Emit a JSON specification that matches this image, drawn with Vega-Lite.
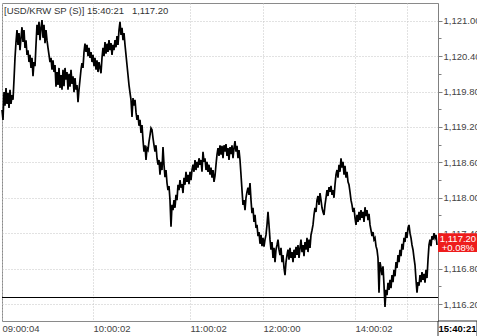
{
"$schema": "https://vega.github.io/schema/vega-lite/v6.json",
"width": 436, "height": 318,
"autosize": {"type": "none"},
"padding": {"left": 2, "top": 3, "right": 39, "bottom": 15},
"background": "white",
"config": {"view": {"stroke": "#8a8a8a", "strokeWidth": 1}, "font": "Liberation Sans"},
"title": {"text": "[USD/KRW SP (S)] 15:40:21\u00a0\u00a0 1,117.20", "anchor": "start", "frame": "group", "offset": -12, "dx": 2, "fontSize": 9.5, "fontWeight": "normal", "color": "#333333", "font": "Liberation Sans"},
"resolve": {"axis": {"x": "independent", "y": "independent"}},
"data": {"values": [
{"i":0,"p":1119.49},{"i":1,"p":1119.32},{"i":2,"p":1119.79},{"i":3,"p":1119.56},{"i":4,"p":1119.86},{"i":5,"p":1119.59},{"i":6,"p":1119.78},{"i":7,"p":1119.52},{"i":8,"p":1119.83},{"i":9,"p":1119.59},
{"i":10,"p":1119.74},{"i":11,"p":1119.66},{"i":12,"p":1120.00},{"i":13,"p":1120.37},{"i":14,"p":1120.64},{"i":15,"p":1120.84},{"i":16,"p":1120.59},{"i":17,"p":1120.79},{"i":18,"p":1120.50},{"i":19,"p":1120.71},
{"i":20,"p":1120.89},{"i":21,"p":1120.64},{"i":22,"p":1120.84},{"i":23,"p":1120.54},{"i":24,"p":1120.67},{"i":25,"p":1120.42},{"i":26,"p":1120.50},{"i":27,"p":1120.30},{"i":28,"p":1120.42},{"i":29,"p":1120.20},
{"i":30,"p":1120.37},{"i":31,"p":1120.06},{"i":32,"p":1120.30},{"i":33,"p":1120.23},{"i":34,"p":1120.59},{"i":35,"p":1120.93},{"i":36,"p":1120.76},{"i":37,"p":1120.98},{"i":38,"p":1120.67},{"i":39,"p":1120.88},
{"i":40,"p":1121.01},{"i":41,"p":1120.71},{"i":42,"p":1120.93},{"i":43,"p":1120.62},{"i":44,"p":1120.84},{"i":45,"p":1120.67},{"i":46,"p":1120.54},{"i":47,"p":1120.42},{"i":48,"p":1120.30},{"i":49,"p":1120.37},
{"i":50,"p":1120.17},{"i":51,"p":1120.33},{"i":52,"p":1120.13},{"i":53,"p":1120.25},{"i":54,"p":1119.88},{"i":55,"p":1120.13},{"i":56,"p":1119.91},{"i":57,"p":1120.20},{"i":58,"p":1119.86},{"i":59,"p":1120.08},
{"i":60,"p":1119.83},{"i":61,"p":1120.17},{"i":62,"p":1119.89},{"i":63,"p":1120.20},{"i":64,"p":1120.00},{"i":65,"p":1120.13},{"i":66,"p":1119.83},{"i":67,"p":1120.10},{"i":68,"p":1119.88},{"i":69,"p":1120.17},
{"i":70,"p":1119.93},{"i":71,"p":1120.06},{"i":72,"p":1119.79},{"i":73,"p":1120.03},{"i":74,"p":1119.83},{"i":75,"p":1119.91},{"i":76,"p":1119.62},{"i":77,"p":1119.83},{"i":78,"p":1120.00},{"i":79,"p":1120.17},
{"i":80,"p":1120.28},{"i":81,"p":1120.20},{"i":82,"p":1120.47},{"i":83,"p":1120.61},{"i":84,"p":1120.47},{"i":85,"p":1120.59},{"i":86,"p":1120.40},{"i":87,"p":1120.54},{"i":88,"p":1120.37},{"i":89,"p":1120.47},
{"i":90,"p":1120.30},{"i":91,"p":1120.42},{"i":92,"p":1120.23},{"i":93,"p":1120.37},{"i":94,"p":1120.17},{"i":95,"p":1120.33},{"i":96,"p":1120.13},{"i":97,"p":1120.30},{"i":98,"p":1120.20},{"i":99,"p":1120.11},
{"i":100,"p":1120.37},{"i":101,"p":1120.54},{"i":102,"p":1120.40},{"i":103,"p":1120.64},{"i":104,"p":1120.44},{"i":105,"p":1120.61},{"i":106,"p":1120.47},{"i":107,"p":1120.67},{"i":108,"p":1120.50},{"i":109,"p":1120.62},
{"i":110,"p":1120.42},{"i":111,"p":1120.59},{"i":112,"p":1120.50},{"i":113,"p":1120.67},{"i":114,"p":1120.55},{"i":115,"p":1120.74},{"i":116,"p":1120.59},{"i":117,"p":1120.84},{"i":118,"p":1120.98},{"i":119,"p":1120.76},
{"i":120,"p":1120.88},{"i":121,"p":1120.67},{"i":122,"p":1120.79},{"i":123,"p":1120.59},{"i":124,"p":1120.42},{"i":125,"p":1120.25},{"i":126,"p":1120.08},{"i":127,"p":1119.91},{"i":128,"p":1119.78},{"i":129,"p":1119.66},
{"i":130,"p":1119.37},{"i":131,"p":1119.69},{"i":132,"p":1119.56},{"i":133,"p":1119.66},{"i":134,"p":1119.45},{"i":135,"p":1119.32},{"i":136,"p":1119.40},{"i":137,"p":1119.22},{"i":138,"p":1119.32},{"i":139,"p":1119.10},
{"i":140,"p":1119.23},{"i":141,"p":1118.98},{"i":142,"p":1118.78},{"i":143,"p":1118.89},{"i":144,"p":1118.64},{"i":145,"p":1118.84},{"i":146,"p":1118.81},{"i":147,"p":1118.95},{"i":148,"p":1119.06},{"i":149,"p":1119.18},
{"i":150,"p":1119.15},{"i":151,"p":1119.01},{"i":152,"p":1118.89},{"i":153,"p":1118.78},{"i":154,"p":1118.89},{"i":155,"p":1118.67},{"i":156,"p":1118.56},{"i":157,"p":1118.64},{"i":158,"p":1118.39},{"i":159,"p":1118.61},
{"i":160,"p":1118.47},{"i":161,"p":1118.86},{"i":162,"p":1118.56},{"i":163,"p":1118.35},{"i":164,"p":1118.47},{"i":165,"p":1118.25},{"i":166,"p":1118.13},{"i":167,"p":1118.20},{"i":168,"p":1117.96},{"i":169,"p":1117.51},
{"i":170,"p":1117.88},{"i":171,"p":1117.79},{"i":172,"p":1117.96},{"i":173,"p":1117.83},{"i":174,"p":1118.05},{"i":175,"p":1117.96},{"i":176,"p":1118.22},{"i":177,"p":1118.13},{"i":178,"p":1118.30},{"i":179,"p":1118.17},
{"i":180,"p":1118.23},{"i":181,"p":1118.08},{"i":182,"p":1118.34},{"i":183,"p":1118.22},{"i":184,"p":1118.44},{"i":185,"p":1118.27},{"i":186,"p":1118.39},{"i":187,"p":1118.23},{"i":188,"p":1118.44},{"i":189,"p":1118.30},
{"i":190,"p":1118.47},{"i":191,"p":1118.56},{"i":192,"p":1118.44},{"i":193,"p":1118.64},{"i":194,"p":1118.47},{"i":195,"p":1118.61},{"i":196,"p":1118.51},{"i":197,"p":1118.67},{"i":198,"p":1118.56},{"i":199,"p":1118.64},
{"i":200,"p":1118.44},{"i":201,"p":1118.78},{"i":202,"p":1118.61},{"i":203,"p":1118.67},{"i":204,"p":1118.47},{"i":205,"p":1118.61},{"i":206,"p":1118.44},{"i":207,"p":1118.56},{"i":208,"p":1118.39},{"i":209,"p":1118.51},
{"i":210,"p":1118.34},{"i":211,"p":1118.47},{"i":212,"p":1118.27},{"i":213,"p":1118.37},{"i":214,"p":1118.56},{"i":215,"p":1118.73},{"i":216,"p":1118.84},{"i":217,"p":1118.71},{"i":218,"p":1118.89},{"i":219,"p":1118.73},
{"i":220,"p":1118.88},{"i":221,"p":1118.67},{"i":222,"p":1118.89},{"i":223,"p":1118.78},{"i":224,"p":1118.91},{"i":225,"p":1118.71},{"i":226,"p":1118.84},{"i":227,"p":1118.64},{"i":228,"p":1118.86},{"i":229,"p":1118.74},
{"i":230,"p":1118.89},{"i":231,"p":1118.67},{"i":232,"p":1118.84},{"i":233,"p":1118.96},{"i":234,"p":1118.78},{"i":235,"p":1118.88},{"i":236,"p":1118.67},{"i":237,"p":1118.81},{"i":238,"p":1118.64},{"i":239,"p":1118.39},
{"i":240,"p":1118.13},{"i":241,"p":1117.88},{"i":242,"p":1117.96},{"i":243,"p":1117.79},{"i":244,"p":1118.00},{"i":245,"p":1118.10},{"i":246,"p":1118.17},{"i":247,"p":1118.05},{"i":248,"p":1118.25},{"i":249,"p":1117.96},
{"i":250,"p":1117.74},{"i":251,"p":1117.83},{"i":252,"p":1117.59},{"i":253,"p":1117.71},{"i":254,"p":1117.49},{"i":255,"p":1117.54},{"i":256,"p":1117.35},{"i":257,"p":1117.42},{"i":258,"p":1117.22},{"i":259,"p":1117.37},
{"i":260,"p":1117.18},{"i":261,"p":1117.32},{"i":262,"p":1117.17},{"i":263,"p":1117.29},{"i":264,"p":1117.37},{"i":265,"p":1117.54},{"i":266,"p":1117.76},{"i":267,"p":1117.54},{"i":268,"p":1117.29},{"i":269,"p":1117.12},
{"i":270,"p":1117.25},{"i":271,"p":1116.98},{"i":272,"p":1117.15},{"i":273,"p":1116.91},{"i":274,"p":1117.12},{"i":275,"p":1117.20},{"i":276,"p":1117.29},{"i":277,"p":1117.12},{"i":278,"p":1117.03},{"i":279,"p":1117.15},
{"i":280,"p":1116.91},{"i":281,"p":1117.03},{"i":282,"p":1116.81},{"i":283,"p":1116.69},{"i":284,"p":1116.91},{"i":285,"p":1117.03},{"i":286,"p":1117.12},{"i":287,"p":1116.95},{"i":288,"p":1117.15},{"i":289,"p":1116.98},
{"i":290,"p":1117.08},{"i":291,"p":1116.91},{"i":292,"p":1117.12},{"i":293,"p":1116.98},{"i":294,"p":1117.17},{"i":295,"p":1117.03},{"i":296,"p":1117.20},{"i":297,"p":1116.98},{"i":298,"p":1117.15},{"i":299,"p":1117.29},
{"i":300,"p":1117.08},{"i":301,"p":1117.20},{"i":302,"p":1117.01},{"i":303,"p":1117.25},{"i":304,"p":1117.12},{"i":305,"p":1117.32},{"i":306,"p":1117.08},{"i":307,"p":1117.29},{"i":308,"p":1117.15},{"i":309,"p":1117.37},
{"i":310,"p":1117.45},{"i":311,"p":1117.54},{"i":312,"p":1117.71},{"i":313,"p":1117.83},{"i":314,"p":1117.76},{"i":315,"p":1117.96},{"i":316,"p":1118.03},{"i":317,"p":1117.88},{"i":318,"p":1118.08},{"i":319,"p":1117.96},
{"i":320,"p":1117.83},{"i":321,"p":1117.76},{"i":322,"p":1117.71},{"i":323,"p":1117.88},{"i":324,"p":1118.00},{"i":325,"p":1118.13},{"i":326,"p":1118.03},{"i":327,"p":1118.18},{"i":328,"p":1118.10},{"i":329,"p":1118.20},
{"i":330,"p":1118.05},{"i":331,"p":1118.13},{"i":332,"p":1118.00},{"i":333,"p":1118.22},{"i":334,"p":1118.39},{"i":335,"p":1118.47},{"i":336,"p":1118.34},{"i":337,"p":1118.56},{"i":338,"p":1118.44},{"i":339,"p":1118.67},
{"i":340,"p":1118.51},{"i":341,"p":1118.61},{"i":342,"p":1118.39},{"i":343,"p":1118.54},{"i":344,"p":1118.34},{"i":345,"p":1118.44},{"i":346,"p":1118.27},{"i":347,"p":1118.22},{"i":348,"p":1118.10},{"i":349,"p":1117.96},
{"i":350,"p":1117.88},{"i":351,"p":1117.76},{"i":352,"p":1117.83},{"i":353,"p":1117.66},{"i":354,"p":1117.54},{"i":355,"p":1117.71},{"i":356,"p":1117.59},{"i":357,"p":1117.76},{"i":358,"p":1117.62},{"i":359,"p":1117.79},
{"i":360,"p":1117.66},{"i":361,"p":1117.76},{"i":362,"p":1117.59},{"i":363,"p":1117.84},{"i":364,"p":1117.69},{"i":365,"p":1117.79},{"i":366,"p":1117.62},{"i":367,"p":1117.73},{"i":368,"p":1117.54},{"i":369,"p":1117.45},
{"i":370,"p":1117.35},{"i":371,"p":1117.42},{"i":372,"p":1117.29},{"i":373,"p":1117.32},{"i":374,"p":1117.18},{"i":375,"p":1117.12},{"i":376,"p":1116.98},{"i":377,"p":1116.39},{"i":378,"p":1116.91},{"i":379,"p":1116.81},
{"i":380,"p":1116.69},{"i":381,"p":1116.84},{"i":382,"p":1116.52},{"i":383,"p":1116.15},{"i":384,"p":1116.44},{"i":385,"p":1116.35},{"i":386,"p":1116.56},{"i":387,"p":1116.44},{"i":388,"p":1116.61},{"i":389,"p":1116.47},
{"i":390,"p":1116.69},{"i":391,"p":1116.57},{"i":392,"p":1116.78},{"i":393,"p":1116.67},{"i":394,"p":1116.91},{"i":395,"p":1116.81},{"i":396,"p":1117.03},{"i":397,"p":1116.91},{"i":398,"p":1117.12},{"i":399,"p":1117.01},
{"i":400,"p":1117.22},{"i":401,"p":1117.12},{"i":402,"p":1117.32},{"i":403,"p":1117.25},{"i":404,"p":1117.42},{"i":405,"p":1117.32},{"i":406,"p":1117.49},{"i":407,"p":1117.54},{"i":408,"p":1117.40},{"i":409,"p":1117.32},
{"i":410,"p":1117.20},{"i":411,"p":1117.12},{"i":412,"p":1116.98},{"i":413,"p":1116.86},{"i":414,"p":1116.61},{"i":415,"p":1116.39},{"i":416,"p":1116.57},{"i":417,"p":1116.51},{"i":418,"p":1116.69},{"i":419,"p":1116.57},
{"i":420,"p":1116.74},{"i":421,"p":1116.61},{"i":422,"p":1116.71},{"i":423,"p":1116.56},{"i":424,"p":1116.78},{"i":425,"p":1116.64},{"i":426,"p":1116.95},{"i":427,"p":1117.20},{"i":428,"p":1117.29},{"i":429,"p":1117.18},
{"i":430,"p":1117.35},{"i":431,"p":1117.29},{"i":432,"p":1117.40},{"i":433,"p":1117.32},{"i":434,"p":1117.37},{"i":435,"p":1117.20}
]},
"layer": [
{
"mark": {"type": "line", "color": "black", "strokeWidth": 1.7},
"encoding": {
"x": {"field": "i", "type": "quantitative", "scale": {"domain": [0, 436], "nice": false, "zero": false},
"axis": {"title": null, "orient": "bottom", "values": [0, 91, 188, 261, 353, 405, 436],
"labelExpr": "datum.value==0?'09:00:04':datum.value==91?'10:00:02':datum.value==188?'11:00:02':datum.value==261?'12:00:00':datum.value==353?'14:00:02':datum.value==436?'15:40:21':''",
"labelAlign": "left", "labelBaseline": "top", "labelPadding": 2, "labelFontSize": 9.5, "labelFont": "Liberation Sans",
"labelColor": {"expr": "datum.value==436?'#000000':'#444444'"}, "labelFontWeight": {"expr": "datum.value==436?'bold':'normal'"},
"labelOverlap": false, "labelFlush": false, "labelBound": false,
"ticks": false, "domain": false, "grid": true, "gridColor": "#c4c4c4", "gridDash": [1, 2], "gridWidth": 1}},
"y": {"field": "p", "type": "quantitative", "scale": {"domain": [1115.912, 1121.30], "nice": false, "zero": false},
"axis": {"title": null, "orient": "right",
"values": [1116.2, 1116.5, 1116.8, 1117.1, 1117.4, 1117.7, 1118.0, 1118.3, 1118.6, 1118.9, 1119.2, 1119.5, 1119.8, 1120.1, 1120.4, 1120.7, 1121.0],
"labelExpr": "round(datum.value*10)%6==2 ? format(datum.value, ',.2f') : ''",
"labelFontSize": 9.5, "labelFont": "Liberation Sans", "labelColor": "#444444", "labelPadding": 1, "labelOverlap": false, "labelBound": false, "labelFlush": false,
"tickSize": {"expr": "round(datum.value*10)%6==2 ? 4 : 3"}, "tickColor": "#808080",
"domain": true, "domainColor": "#808080",
"grid": true, "gridColor": "#c4c4c4", "gridDash": [1, 2], "gridWidth": 1,
"gridOpacity": {"expr": "round(datum.value*10)%6==2 ? 1 : 0"}}}
}
},
{"data": {"values": [{}]}, "mark": {"type": "rule", "color": "black", "strokeWidth": 1}, "encoding": {"y": {"datum": 1116.31, "axis": null}}},
{"data": {"values": [{}]}, "mark": {"type": "rect", "color": "#ee1c1c", "clip": false}, "encoding": {"x": {"datum": 436, "axis": null}, "x2": {"datum": 476}, "y": {"datum": 1117.40, "axis": null}, "y2": {"datum": 1117.08}}},
{"data": {"values": [{}]}, "mark": {"type": "text", "color": "white", "align": "center", "baseline": "middle", "fontSize": 9.5, "font": "Liberation Sans", "clip": false}, "encoding": {"x": {"datum": 456, "axis": null}, "y": {"datum": 1117.30, "axis": null}, "text": {"value": "1,117.20"}}},
{"data": {"values": [{}]}, "mark": {"type": "text", "color": "white", "align": "center", "baseline": "middle", "fontSize": 9.5, "font": "Liberation Sans", "clip": false}, "encoding": {"x": {"datum": 456, "axis": null}, "y": {"datum": 1117.155, "axis": null}, "text": {"value": "+0.08%"}}},
{"data": {"values": [{}]}, "mark": {"type": "rect", "fill": null, "filled": false, "stroke": "#333333", "strokeWidth": 1, "clip": false}, "encoding": {"x": {"datum": 436, "axis": null}, "x2": {"datum": 475}, "y": {"datum": 1115.912, "axis": null}, "y2": {"datum": 1115.64}}}
]
}
